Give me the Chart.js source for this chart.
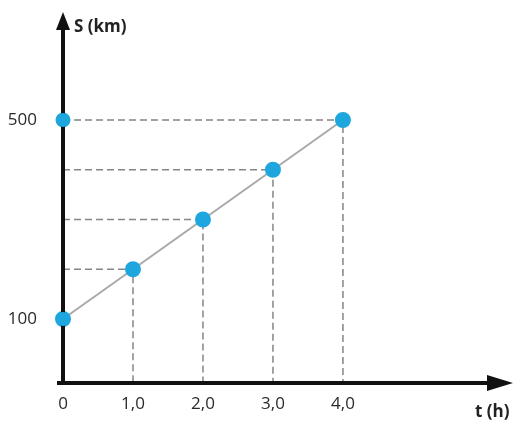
<!DOCTYPE html>
<html>
<head>
<meta charset="utf-8">
<script src="https://cdn.jsdelivr.net/npm/chart.js@4/dist/chart.umd.min.js"></script>
<style>
  html, body { margin: 0; padding: 0; background: #fff; }
  canvas { display: block; }
</style>
</head>
<body>
<canvas id="c" width="522" height="432"></canvas>
<script>
// values
const times = [0, 1, 2, 3, 4];              // t (h)
const distances = [100, 200, 300, 400, 500]; // S (km)
const xTickValues = [0, 1, 2, 3, 4];
const xTickLabels = ['0', '1,0', '2,0', '3,0', '4,0'];
const yTickValues = [100, 500];
const yTickLabels = ['100', '500'];

const X_MIN = 0, X_MAX = 6.43;
const Y_MIN = -28.6, Y_MAX = 717;

const BLUE = '#1ea6df';
const FONT = "'Open Sans', sans-serif";

// main line
const points = times.map((t, i) => ({ x: t, y: distances[i] }));

// dashed guides: from the S axis over to the point and down to the t axis
const guides = [];
for (let i = 1; i < times.length; i++) {
  guides.push({
    data: [{ x: 0, y: distances[i] }, { x: times[i], y: distances[i] }, { x: times[i], y: Y_MIN }],
    borderColor: '#858585',
    borderWidth: 1.5,
    borderDash: [7, 4],
    pointRadius: 0,
    showLine: true,
    clip: false,
    order: 3
  });
}

// blue marker on the S axis at 500
const axisMark = { x: 0, y: distances[distances.length - 1] };

const axesPlugin = {
  id: 'axesArrows',
  afterDatasetsDraw(chart) {
    const ctx = chart.ctx;
    const xs = chart.scales.x, ys = chart.scales.y;
    const x0 = xs.getPixelForValue(0);
    const y0 = ys.getPixelForValue(Y_MIN);
    const xEnd = xs.getPixelForValue(X_MAX);
    const yEnd = ys.getPixelForValue(Y_MAX);
    ctx.save();
    ctx.strokeStyle = '#111';
    ctx.fillStyle = '#111';
    ctx.lineWidth = 4;
    // t axis
    ctx.beginPath();
    ctx.moveTo(x0 - 6, y0);
    ctx.lineTo(xEnd - 20, y0);
    ctx.stroke();
    ctx.beginPath();
    ctx.moveTo(xEnd, y0);
    ctx.lineTo(xEnd - 26, y0 - 8);
    ctx.lineTo(xEnd - 26, y0 + 8);
    ctx.closePath();
    ctx.fill();
    // S axis
    ctx.beginPath();
    ctx.moveTo(x0, y0 + 2);
    ctx.lineTo(x0, yEnd + 12);
    ctx.stroke();
    ctx.beginPath();
    ctx.moveTo(x0, yEnd);
    ctx.lineTo(x0 - 7, yEnd + 18);
    ctx.lineTo(x0 + 7, yEnd + 18);
    ctx.closePath();
    ctx.fill();
    // axis names
    ctx.font = "bold 17px " + FONT;
    ctx.fillStyle = '#222';
    ctx.textBaseline = 'middle';
    ctx.textAlign = 'left';
    ctx.fillText('S (km)', x0 + 11, yEnd + 15);
    ctx.fillText('t (h)', xEnd - 38, y0 + 29);
    ctx.restore();
  },
  afterDraw(chart) {
    // points drawn again over the axes
    const ctx = chart.ctx;
    const xs = chart.scales.x, ys = chart.scales.y;
    ctx.save();
    ctx.fillStyle = BLUE;
    [points[0], axisMark].forEach(p => {
      ctx.beginPath();
      ctx.arc(xs.getPixelForValue(p.x), ys.getPixelForValue(p.y), 7, 0, Math.PI * 2);
      ctx.fill();
    });
    ctx.restore();
  }
};

new Chart(document.getElementById('c'), {
  type: 'scatter',
  data: {
    datasets: [
      {
        data: points,
        showLine: true,
        borderColor: '#a9a9a9',
        borderWidth: 2,
        pointBackgroundColor: BLUE,
        pointBorderColor: BLUE,
        pointRadius: 7,
        clip: false,
        order: 1
      },
      {
        data: [axisMark],
        pointBackgroundColor: BLUE,
        pointBorderColor: BLUE,
        pointRadius: 7,
        clip: false,
        order: 1
      }
    ].concat(guides)
  },
  options: {
    responsive: false,
    animation: false,
    layout: { padding: { top: 12, right: 9, left: 0, bottom: 0 } },
    plugins: { legend: { display: false }, tooltip: { enabled: false } },
    scales: {
      x: {
        type: 'linear',
        min: X_MIN,
        max: X_MAX,
        grid: { display: false },
        border: { display: false },
        afterBuildTicks(scale) { scale.ticks = xTickValues.map(v => ({ value: v })); },
        afterFit(scale) { scale.height = 49; scale.paddingLeft = 0; scale.paddingRight = 0; },
        ticks: {
          font: { family: FONT, size: 17 },
          color: '#2a2a2a',
          padding: 3,
          maxRotation: 0,
          autoSkip: false,
          callback: (v) => xTickLabels[xTickValues.indexOf(v)]
        }
      },
      y: {
        type: 'linear',
        min: Y_MIN,
        max: Y_MAX,
        grid: { display: false },
        border: { display: false },
        afterBuildTicks(scale) { scale.ticks = yTickValues.map(v => ({ value: v })); },
        afterFit(scale) { scale.width = 63; scale.paddingTop = 0; scale.paddingBottom = 0; },
        ticks: {
          font: { family: FONT, size: 17 },
          color: '#2a2a2a',
          padding: 18,
          autoSkip: false,
          callback: (v) => yTickLabels[yTickValues.indexOf(v)]
        }
      }
    }
  },
  plugins: [axesPlugin]
});
</script>
</body>
</html>
